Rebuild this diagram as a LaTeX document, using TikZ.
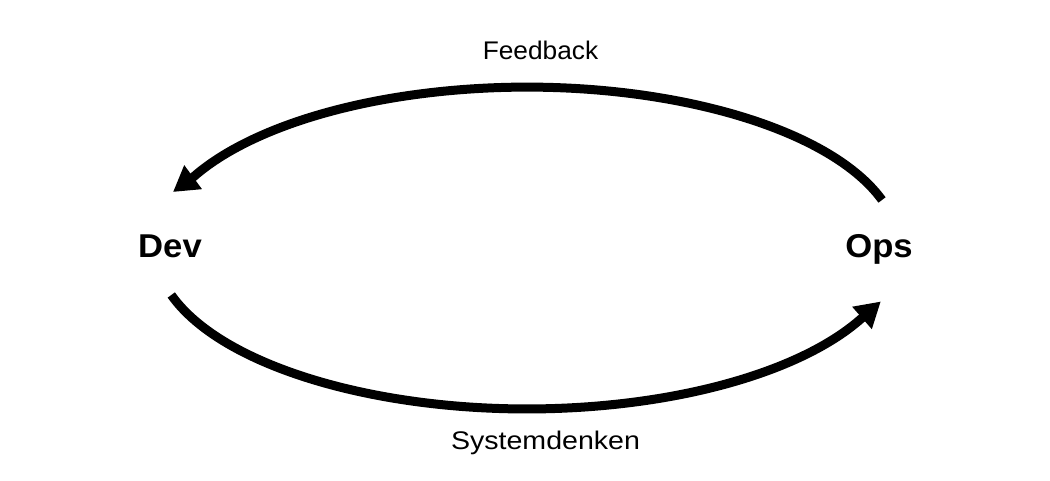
\documentclass[tikz,border=0pt]{standalone}
\usepackage{fontspec}
\setmainfont{Liberation Sans}
\usetikzlibrary{arrows.meta}

\begin{document}
\begin{tikzpicture}[x=1pt, y=1pt,
  role/.style = {anchor=base, inner sep=0pt, xscale=1.05, font=\fontsize{33}{36}\selectfont\bfseries},
  side label/.style = {anchor=base, inner sep=0pt, font=\fontsize{25.5}{30}\selectfont},
  loop arrow/.style = {line width=9pt, -{Triangle[length=25pt, width=28pt]}}]
\useasboundingbox (0,0) rectangle (1050,481);
\node[role] (dev) at (170,223) {Dev};
\node[role] (ops) at (879,223) {Ops};
\node[side label, xscale=1.03] (feedback) at (540.5,421) {Feedback};
\node[side label, xscale=1.12] (system) at (545.5,31) {Systemdenken};
% ends of the two loops
\coordinate (opsOut) at (882,281);
\coordinate (devIn) at (173,289);
\coordinate (devOut) at (171.3,186);
\coordinate (opsIn) at (880.8,179.5);
\draw[loop arrow] (opsOut) arc[start angle=17.4, end angle=153.7, x radius=372, y radius=161] -- (devIn);
\draw[loop arrow] (devOut) arc[start angle=197, end angle=333.7, x radius=372, y radius=161] -- (opsIn);
\end{tikzpicture}
\end{document}
